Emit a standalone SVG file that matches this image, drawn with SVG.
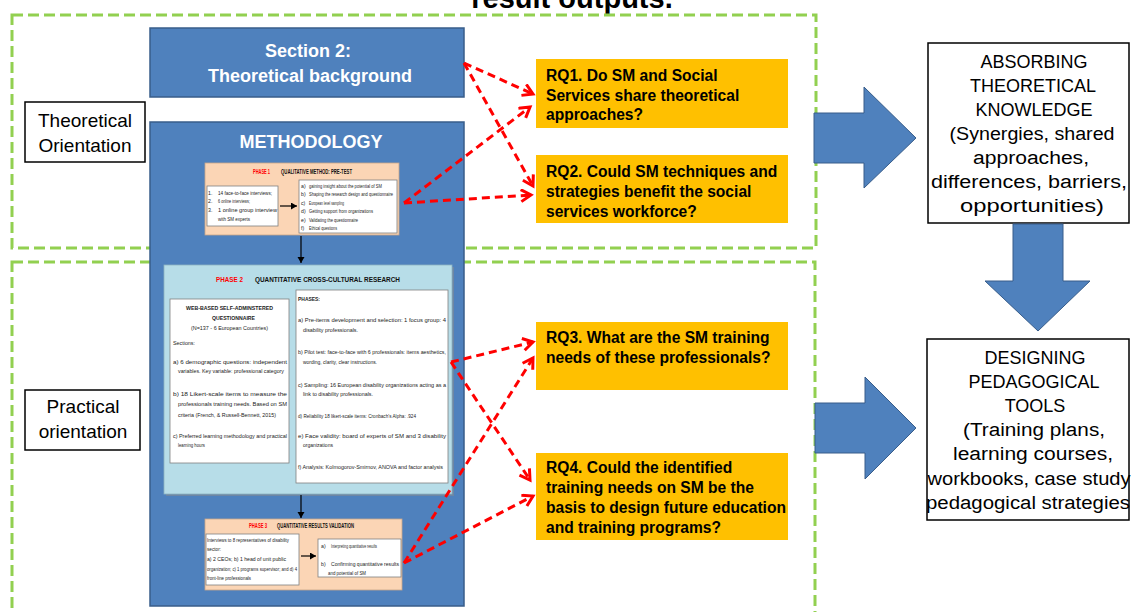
<svg xmlns="http://www.w3.org/2000/svg" width="1132" height="612" viewBox="0 0 1132 612">
  <style>
    .zone { fill: none; stroke: #92D050; stroke-width: 3; stroke-dasharray: 11 5; }
    .blue { fill: #4F81BD; stroke: #385D8A; stroke-width: 1.5; }
    .big { fill: #4F81BD; stroke: #385D8A; stroke-width: 1; }
    .rq { fill: #FFC000; }
    .rqt { font-family: "Liberation Sans", Arial, sans-serif; font-weight: bold; font-size: 15.6px; fill: #000; }
    .out { fill: #fff; stroke: #000; stroke-width: 1.5; }
    .outt { font-family: "Liberation Sans", Arial, sans-serif; font-size: 18px; fill: #000; text-anchor: middle; }
    .lab { fill: #fff; stroke: #000; stroke-width: 1.5; }
    .labt { font-family: "Liberation Sans", Arial, sans-serif; font-size: 19px; fill: #000; text-anchor: middle; }
    .wt { font-family: "Liberation Sans", Arial, sans-serif; font-weight: bold; fill: #fff; text-anchor: middle; }
    .peach { fill: #FBD5B5; stroke: #C9A58A; stroke-width: 0.8; }
    .aqua { fill: #B7DDE8; stroke: #8DB3C0; stroke-width: 0.8; }
    .wb { fill: #fff; stroke: #808080; stroke-width: 0.8; }
    .tiny { font-family: "Liberation Sans", Arial, sans-serif; font-size: 6px; fill: #222; }
    .tiny5 { font-family: "Liberation Sans", Arial, sans-serif; font-size: 5.2px; fill: #222; }
    .hd { font-family: "Liberation Sans", Arial, sans-serif; font-weight: bold; font-size: 7px; fill: #111; }
    .ph { font-family: "Liberation Sans", Arial, sans-serif; font-weight: bold; font-size: 7px; fill: #FF0000; }
    .b { font-weight: bold; }
    .rd { fill: none; stroke: #FF0000; stroke-width: 3; stroke-dasharray: 8 5; marker-end: url(#rh); }
    .bk { fill: none; stroke: #000; stroke-width: 1.2; marker-end: url(#bh); }
  </style>
  <defs>
    <marker id="rh" markerUnits="userSpaceOnUse" markerWidth="16" markerHeight="16" refX="12" refY="7" orient="auto">
      <path d="M2,1 L12,7 L2,13" fill="none" stroke="#FF0000" stroke-width="3" stroke-dasharray="none"/>
    </marker>
    <marker id="bh" markerUnits="userSpaceOnUse" markerWidth="8" markerHeight="8" refX="6" refY="3.5" orient="auto">
      <path d="M0,0 L6,3.5 L0,7 Z" fill="#000"/>
    </marker>
  </defs>

  <rect width="1132" height="612" fill="#fff"/>

  <!-- heading, cut at the top edge -->
  <text x="572" y="8" font-family="Liberation Sans, Arial, sans-serif" font-weight="bold" font-size="29" text-anchor="middle" fill="#000">result outputs.</text>

  <!-- dashed zones -->
  <g id="zones">
    <rect class="zone" x="12" y="15" width="804" height="233"/>
    <rect class="zone" x="12" y="262" width="803" height="370"/>
  </g>

  <!-- zone labels -->
  <g id="label-theoretical">
    <rect class="lab" x="25" y="102" width="120" height="60"/>
    <text class="labt" x="85" y="127">Theoretical</text>
    <text class="labt" x="85" y="152">Orientation</text>
  </g>
  <g id="label-practical">
    <rect class="lab" x="25" y="390" width="115" height="60"/>
    <text class="labt" x="83" y="413">Practical</text>
    <text class="labt" x="83" y="438">orientation</text>
  </g>

  <!-- Section 2 -->
  <g id="section2">
    <rect class="blue" x="150" y="28" width="314" height="69"/>
    <text class="wt" x="308" y="57" font-size="18">Section 2:</text>
    <text class="wt" x="310" y="82" font-size="18">Theoretical background</text>
  </g>

  <!-- Methodology panel -->
  <g id="methodology">
    <rect class="blue" x="150" y="122" width="314" height="484"/>
    <text class="wt" x="311" y="148" font-size="18">METHODOLOGY</text>
  </g>

  <!-- Phase 1 -->
  <g id="phase1">
    <rect class="peach" x="205" y="163" width="194" height="72"/>
    <text class="ph" x="253" y="174" font-size="5.5" textLength="17" lengthAdjust="spacingAndGlyphs">PHASE 1</text>
    <text class="hd" x="281" y="174" font-size="5.5" textLength="71" lengthAdjust="spacingAndGlyphs">QUALITATIVE METHOD: PRE-TEST</text>
    <rect class="wb" x="207" y="186" width="71" height="40"/>
    <g class="tiny5">
      <text x="208" y="195">1.</text><text x="218" y="195" textLength="54" lengthAdjust="spacingAndGlyphs">14 face-to-face interviews;</text>
      <text x="208" y="203">2.</text><text x="218" y="203" textLength="32" lengthAdjust="spacingAndGlyphs">6 online interviews;</text>
      <text x="208" y="212">3.</text><text x="218" y="212" textLength="59" lengthAdjust="spacingAndGlyphs">1 online group interview</text>
      <text x="218" y="221" textLength="32" lengthAdjust="spacingAndGlyphs">with SM experts</text>
    </g>
    <rect class="wb" x="299" y="180" width="98" height="53"/>
    <g class="tiny5">
      <text x="301" y="188">a)</text><text x="309" y="188" textLength="73" lengthAdjust="spacingAndGlyphs">gaining insight about the potential of SM</text>
      <text x="301" y="196">b)</text><text x="309" y="196" textLength="84" lengthAdjust="spacingAndGlyphs">Shaping the research design and questionnaire</text>
      <text x="301" y="205">c)</text><text x="309" y="205" textLength="35" lengthAdjust="spacingAndGlyphs">European level sampling</text>
      <text x="301" y="213">d)</text><text x="309" y="213" textLength="64" lengthAdjust="spacingAndGlyphs">Getting support from organizations</text>
      <text x="301" y="222">e)</text><text x="309" y="222" textLength="49" lengthAdjust="spacingAndGlyphs">Validating the questionnaire</text>
      <text x="301" y="230">f)</text><text x="309" y="230" textLength="28" lengthAdjust="spacingAndGlyphs">Ethical questions</text>
    </g>
    <line class="bk" x1="280" y1="206" x2="297" y2="206"/>
  </g>

  <!-- Phase 2 -->
  <g id="phase2">
    <rect x="166" y="267" width="288" height="229" fill="#8C8C8C" opacity="0.5"/>
    <rect class="aqua" x="164" y="265" width="288" height="229"/>
    <text class="ph" x="216" y="282" font-size="8" textLength="27" lengthAdjust="spacingAndGlyphs">PHASE 2</text>
    <text class="hd" x="255" y="282" font-size="8" textLength="145" lengthAdjust="spacingAndGlyphs">QUANTITATIVE CROSS-CULTURAL RESEARCH</text>

    <rect class="wb" x="170" y="299" width="119" height="164"/>
    <g class="tiny">
      <text class="b" x="229.5" y="310" text-anchor="middle" textLength="87" lengthAdjust="spacingAndGlyphs">WEB-BASED SELF-ADMINSTERED</text>
      <text class="b" x="233.5" y="320" text-anchor="middle" textLength="43" lengthAdjust="spacingAndGlyphs">QUESTIONNAIRE</text>
      <text x="229.5" y="330" text-anchor="middle" textLength="77" lengthAdjust="spacingAndGlyphs">(N=137 - 6 European Countries)</text>
      <text x="173" y="345" textLength="22" lengthAdjust="spacingAndGlyphs">Sections:</text>
      <text x="173" y="364" textLength="114" lengthAdjust="spacingAndGlyphs">a) 6  demographic  questions:  independent</text>
      <text x="178" y="373" textLength="106" lengthAdjust="spacingAndGlyphs">variables. Key variable: professional category</text>
      <text x="173" y="396" textLength="114" lengthAdjust="spacingAndGlyphs">b) 18  Likert-scale  items  to  measure  the</text>
      <text x="178" y="406" textLength="109" lengthAdjust="spacingAndGlyphs">professionals training needs. Based on SM</text>
      <text x="178" y="417" textLength="98" lengthAdjust="spacingAndGlyphs">criteria (French, &amp; Russell-Bennett, 2015)</text>
      <text x="173" y="438" textLength="114" lengthAdjust="spacingAndGlyphs">c) Preferred learning methodology and practical</text>
      <text x="178" y="447" textLength="27" lengthAdjust="spacingAndGlyphs">learning hours</text>
    </g>

    <rect class="wb" x="296" y="290" width="152" height="193"/>
    <g class="tiny">
      <text class="b" x="298" y="301" textLength="22" lengthAdjust="spacingAndGlyphs">PHASES:</text>
      <text x="298" y="322" textLength="148" lengthAdjust="spacingAndGlyphs">a) Pre-items development and selection: 1 focus group: 4</text>
      <text x="303" y="332" textLength="55" lengthAdjust="spacingAndGlyphs">disability professionals.</text>
      <text x="298" y="354" textLength="148" lengthAdjust="spacingAndGlyphs">b) Pilot test: face-to-face with 6 professionals: items aesthetics,</text>
      <text x="303" y="364" textLength="74" lengthAdjust="spacingAndGlyphs">wording, clarity, clear instructions.</text>
      <text x="298" y="387" textLength="148" lengthAdjust="spacingAndGlyphs">c) Sampling: 16 European disability organizations acting as a</text>
      <text x="303" y="396" textLength="70" lengthAdjust="spacingAndGlyphs">link to disability professionals.</text>
      <text x="298" y="418" textLength="118" lengthAdjust="spacingAndGlyphs">d) Reliability 18 likert-scale items: Cronbach's Alpha: .924</text>
      <text x="298" y="438" textLength="148" lengthAdjust="spacingAndGlyphs">e) Face validity: board of experts of SM and 3 disability</text>
      <text x="303" y="447" textLength="30" lengthAdjust="spacingAndGlyphs">organizations</text>
      <text x="298" y="469" textLength="145" lengthAdjust="spacingAndGlyphs">f) Analysis: Kolmogorov-Smirnov, ANOVA and factor analysis</text>
    </g>
  </g>

  <!-- Phase 3 -->
  <g id="phase3">
    <rect class="peach" x="205" y="519" width="197" height="71"/>
    <text class="ph" x="249" y="528" font-size="5" textLength="18" lengthAdjust="spacingAndGlyphs">PHASE 3</text>
    <text class="hd" x="277" y="528" font-size="5" textLength="77" lengthAdjust="spacingAndGlyphs">QUANTITATIVE RESULTS VALIDATION</text>
    <rect class="wb" x="206" y="534" width="93" height="51"/>
    <g class="tiny5">
      <text x="207" y="542" textLength="82" lengthAdjust="spacingAndGlyphs">Interviews to 8 representatives of disability</text>
      <text x="207" y="551" textLength="14" lengthAdjust="spacingAndGlyphs">sector:</text>
      <text x="207" y="561" textLength="79" lengthAdjust="spacingAndGlyphs">a) 2  CEOs; b) 1 head of unit public</text>
      <text x="207" y="571" textLength="90" lengthAdjust="spacingAndGlyphs">organization; c) 1 programs supervisor; and d) 4</text>
      <text x="207" y="580" textLength="44" lengthAdjust="spacingAndGlyphs">front-line professionals</text>
    </g>
    <rect class="wb" x="318" y="539" width="83" height="38"/>
    <g class="tiny5">
      <text x="321" y="548">a)</text><text x="331" y="548" textLength="46" lengthAdjust="spacingAndGlyphs">Interpreting quantitative results</text>
      <text x="321" y="566">b)</text><text x="331" y="566" textLength="68" lengthAdjust="spacingAndGlyphs">Confirming  quantitative  results</text>
      <text x="328" y="575" textLength="38" lengthAdjust="spacingAndGlyphs">and potential of SM</text>
    </g>
    <line class="bk" x1="301" y1="556" x2="316" y2="556"/>
  </g>

  <!-- research questions -->
  <g id="rq1">
    <rect class="rq" x="536" y="59" width="252" height="69"/>
    <text class="rqt" x="546" y="81">RQ1. Do SM and Social</text>
    <text class="rqt" x="546" y="101">Services share theoretical</text>
    <text class="rqt" x="546" y="120">approaches?</text>
  </g>
  <g id="rq2">
    <rect class="rq" x="536" y="155" width="252" height="68"/>
    <text class="rqt" x="546" y="177">RQ2. Could SM techniques and</text>
    <text class="rqt" x="546" y="197">strategies benefit the social</text>
    <text class="rqt" x="546" y="217">services workforce?</text>
  </g>
  <g id="rq3">
    <rect class="rq" x="536" y="322" width="252" height="68"/>
    <text class="rqt" x="546" y="343">RQ3. What are the SM training</text>
    <text class="rqt" x="546" y="363">needs of these professionals?</text>
  </g>
  <g id="rq4">
    <rect class="rq" x="536" y="453" width="252" height="87"/>
    <text class="rqt" x="546" y="473">RQ4. Could the identified</text>
    <text class="rqt" x="546" y="493">training needs on SM be the</text>
    <text class="rqt" x="546" y="513">basis to design future education</text>
    <text class="rqt" x="546" y="533">and training programs?</text>
  </g>

  <!-- outcomes -->
  <g id="absorbing">
    <rect class="out" x="928" y="43" width="201" height="180"/>
    <text class="outt" x="1034" y="68">ABSORBING</text>
    <text class="outt" x="1033" y="92">THEORETICAL</text>
    <text class="outt" x="1034" y="116">KNOWLEDGE</text>
    <text class="outt" x="1032" y="140" textLength="165" lengthAdjust="spacingAndGlyphs">(Synergies,  shared</text>
    <text class="outt" x="1031" y="164" textLength="116" lengthAdjust="spacingAndGlyphs">approaches,</text>
    <text class="outt" x="1029" y="188" textLength="196" lengthAdjust="spacingAndGlyphs">differences, barriers,</text>
    <text class="outt" x="1032" y="212" textLength="144" lengthAdjust="spacingAndGlyphs">opportunities)</text>
  </g>
  <g id="designing">
    <rect class="out" x="927" y="339" width="202" height="181"/>
    <text class="outt" x="1035" y="364">DESIGNING</text>
    <text class="outt" x="1034" y="388">PEDAGOGICAL</text>
    <text class="outt" x="1035" y="412">TOOLS</text>
    <text class="outt" x="1034" y="436" textLength="142" lengthAdjust="spacingAndGlyphs">(Training plans,</text>
    <text class="outt" x="1033" y="460" textLength="160" lengthAdjust="spacingAndGlyphs">learning courses,</text>
    <text class="outt" x="1029" y="485" textLength="203" lengthAdjust="spacingAndGlyphs">workbooks, case study</text>
    <text class="outt" x="1028" y="509" textLength="204" lengthAdjust="spacingAndGlyphs">pedagogical strategies</text>
  </g>

  <!-- connectors -->
  <g id="connectors">
    <path class="big" d="M814,113 L864,113 L864,87 L916,138 L864,188 L864,163 L814,163 Z"/>
    <path class="big" d="M1013,224 L1063,224 L1063,281 L1090,281 L1038,331 L985,281 L1013,281 Z"/>
    <path class="big" d="M815,403 L865,403 L865,377 L916,428 L865,479 L865,453 L815,453 Z"/>

    <line class="bk" x1="301" y1="236" x2="301" y2="263"/>
    <line class="bk" x1="301" y1="495" x2="301" y2="518"/>

    <line class="rd" x1="464" y1="63" x2="533" y2="94"/>
    <line class="rd" x1="464" y1="63" x2="533" y2="186"/>
    <line class="rd" x1="404" y1="203" x2="530" y2="107"/>
    <line class="rd" x1="404" y1="203" x2="531" y2="195"/>
    <line class="rd" x1="451" y1="362" x2="533" y2="342"/>
    <line class="rd" x1="451" y1="362" x2="530" y2="480"/>
    <line class="rd" x1="404" y1="563" x2="533" y2="358"/>
    <line class="rd" x1="404" y1="563" x2="533" y2="496"/>
  </g>
</svg>
